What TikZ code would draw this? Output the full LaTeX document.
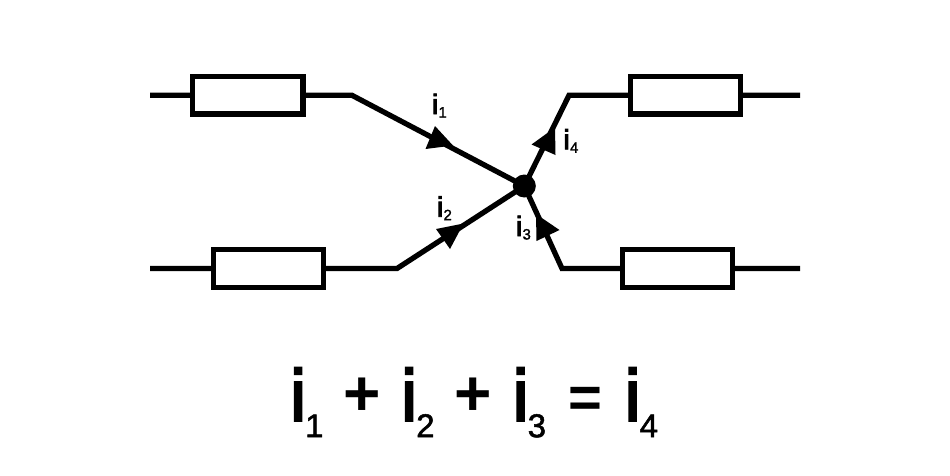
\documentclass[tikz,border=0pt]{standalone}
\usepackage{fontspec}
\setmainfont{Liberation Sans}
\newfontfamily\heavyfont[FakeBold=3]{Liberation Sans}
\newfontfamily\medfont[FakeBold=1.5]{Liberation Sans}
\newcommand{\smallterm}[1]{{\heavyfont\fontsize{28}{28}\selectfont i}\kern0.3pt\raisebox{-3.5pt}{\medfont\fontsize{15}{15}\selectfont #1}}
\newcommand{\bigterm}[1]{{\heavyfont\fontsize{73}{73}\selectfont i}\kern-1pt\raisebox{-16.5pt}{\medfont\fontsize{33}{33}\selectfont #1}}
\tikzset{
  wire/.style={line width=5.3pt,line join=miter},
  resistor/.style={draw,line width=5.3pt,fill=white,minimum width=110.3pt,minimum height=37.5pt,inner sep=0pt,outer sep=0pt},
  junction/.style={circle,fill=black,minimum size=23pt,inner sep=0pt,outer sep=0pt},
  head/.style={fill=black},
  txt/.style={inner sep=0pt,outer sep=0pt,anchor=base west},
  plusmark/.style={inner sep=0pt,outer sep=0pt,anchor=center,font=\fontsize{64}{64}\selectfont\bfseries},
  eqmark/.style={inner sep=0pt,outer sep=0pt,anchor=center,font=\fontsize{58}{58}\selectfont\bfseries}
}
\begin{document}
\begin{tikzpicture}[x=1pt,y=-1pt]
\useasboundingbox[fill=white] (0,0) rectangle (950,475);
\coordinate (a1) at (150,95.3);
\coordinate (a2) at (352,95.3);
\coordinate (b1) at (150,268.5);
\coordinate (b2) at (397,268.5);
\coordinate (c1) at (800,95.3);
\coordinate (c2) at (569,95.3);
\coordinate (d1) at (800,268.5);
\coordinate (d2) at (562,268.5);
\node[junction] (J) at (524.3,186) {};
\draw[wire] (a1) -- (a2) -- (J.center);
\draw[wire] (b1) -- (b2) -- (J.center);
\draw[wire] (c1) -- (c2) -- (J.center);
\draw[wire] (d1) -- (d2) -- (J.center);
\node[resistor] (R1) at (247.8,95.3) {};
\node[resistor] (R2) at (268.5,268.5) {};
\node[resistor] (R4) at (685.5,95.3) {};
\node[resistor] (R3) at (677.5,268.5) {};
\fill[head] (435,126) -- (425.5,149) -- (453,145.5) -- cycle;
\fill[head] (436,229) -- (463.5,223.5) -- (450,249) -- cycle;
\fill[head] (531.5,144.5) -- (555,127.5) -- (555.5,155) -- cycle;
\fill[head] (536,214) -- (559.5,230) -- (536.5,241) -- cycle;
\node[txt] (l1) at (432,114) {\smallterm{1}};
\node[txt] (l2) at (437,216.7) {\smallterm{2}};
\node[txt] (l3) at (516,236) {\smallterm{3}};
\node[txt] (l4) at (563.5,149.3) {\smallterm{4}};
\node[txt] (e1) at (290,420.7) {\bigterm{1}};
\node[plusmark] (p1) at (362,396.7) {+};
\node[txt] (e2) at (401,420.7) {\bigterm{2}};
\node[plusmark] (p2) at (473,396.7) {+};
\node[txt] (e3) at (512.5,420.7) {\bigterm{3}};
\node[eqmark] (eq) at (585,402) {=};
\node[txt] (e4) at (624.5,420.7) {\bigterm{4}};
\end{tikzpicture}
\end{document}
